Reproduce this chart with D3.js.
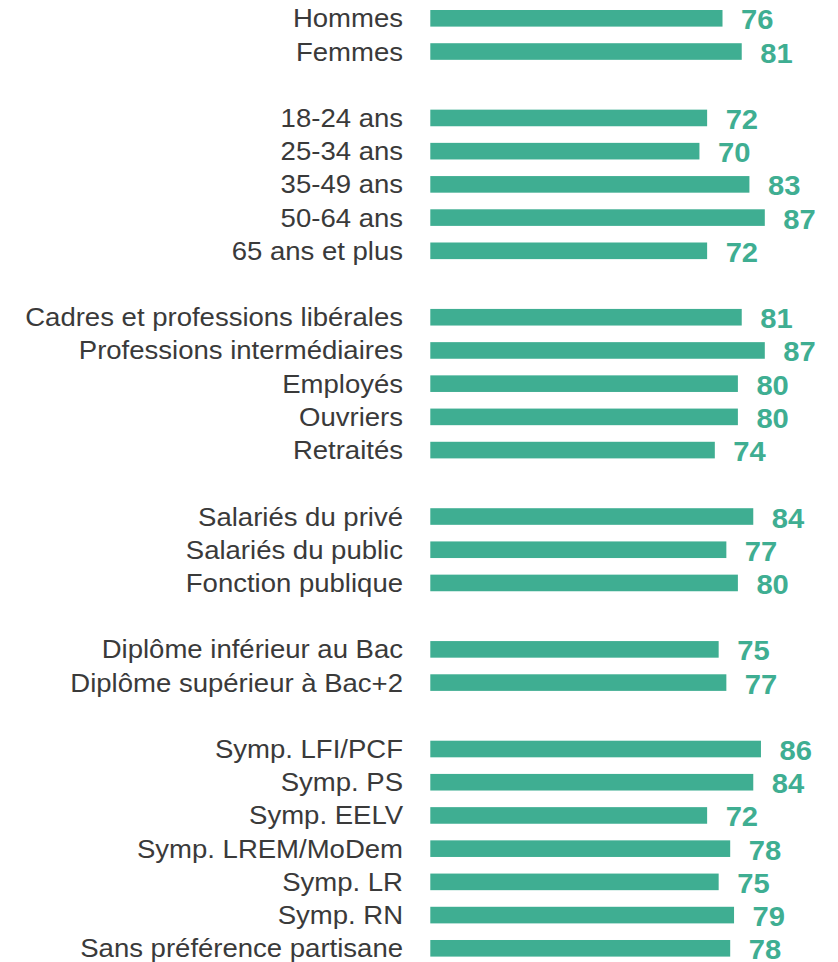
<!DOCTYPE html>
<html>
<head>
<meta charset="utf-8">
<script src="https://cdn.jsdelivr.net/npm/d3@7"></script>
<style>
  html, body { margin: 0; padding: 0; background: #ffffff; }
  svg { display: block; }
</style>
</head>
<body>
<svg id="chart" width="838" height="962"></svg>
<script>
// ---- Data ----
const groupSexe = ["Hommes", "Femmes"];
const valuesSexe = [76, 81];
const groupAge = ["18-24 ans", "25-34 ans", "35-49 ans", "50-64 ans", "65 ans et plus"];
const valuesAge = [72, 70, 83, 87, 72];
const groupCSP = ["Cadres et professions libérales", "Professions intermédiaires", "Employés", "Ouvriers", "Retraités"];
const valuesCSP = [81, 87, 80, 80, 74];
const groupStatut = ["Salariés du privé", "Salariés du public", "Fonction publique"];
const valuesStatut = [84, 77, 80];
const groupDiplome = ["Diplôme inférieur au Bac", "Diplôme supérieur à Bac+2"];
const valuesDiplome = [75, 77];
const groupPartis = ["Symp. LFI/PCF", "Symp. PS", "Symp. EELV", "Symp. LREM/MoDem", "Symp. LR", "Symp. RN", "Sans préférence partisane"];
const valuesPartis = [86, 84, 72, 78, 75, 79, 78];

const groups = [
  [groupSexe, valuesSexe],
  [groupAge, valuesAge],
  [groupCSP, valuesCSP],
  [groupStatut, valuesStatut],
  [groupDiplome, valuesDiplome],
  [groupPartis, valuesPartis]
];

// Build rows with blank spacer rows between groups
const rows = [];
groups.forEach(([cats, vals], gi) => {
  if (gi > 0) rows.push({ key: "gap" + gi, label: null, value: null });
  cats.forEach((c, i) => rows.push({ key: c, label: c, value: vals[i] }));
});

// ---- Layout ----
const svg = d3.select("#chart");
const green = "#3fae92";
const textColor = "#3a3a3a";
const stretch = 1.08;

const x = d3.scaleLinear().domain([0, 87]).range([430.3, 764.8]);
const y = d3.scaleBand()
  .domain(rows.map(d => d.key))
  .range([1.7, 1.7 + rows.length * 33.214])
  .paddingInner(0.5)
  .paddingOuter(0.25);

const data = rows.filter(d => d.value !== null);

svg.append("g").selectAll("rect")
  .data(data).join("rect")
  .attr("x", x(0))
  .attr("y", d => y(d.key))
  .attr("width", d => x(d.value) - x(0))
  .attr("height", y.bandwidth())
  .attr("fill", green);

svg.append("g").selectAll("text")
  .data(data).join("text")
  .attr("transform", d => `translate(403,${y(d.key) + y.bandwidth() / 2 + 9}) scale(${stretch},1)`)
  .attr("text-anchor", "end")
  .attr("font-family", "'Liberation Sans', Arial, sans-serif")
  .attr("font-size", "25.5px")
  .attr("fill", textColor)
  .text(d => d.label);

svg.append("g").selectAll("text")
  .data(data).join("text")
  .attr("transform", d => `translate(${x(d.value) + 18.5},${y(d.key) + y.bandwidth() / 2 + 11}) scale(${stretch},1)`)
  .attr("text-anchor", "start")
  .attr("font-family", "'Liberation Sans', Arial, sans-serif")
  .attr("font-weight", "bold")
  .attr("font-size", "27px")
  .attr("fill", green)
  .text(d => d.value);
</script>
</body>
</html>
